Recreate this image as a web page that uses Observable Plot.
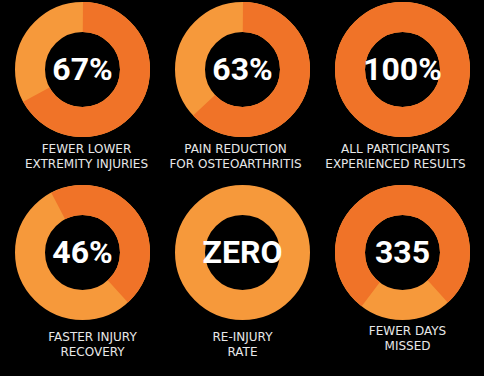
<!DOCTYPE html>
<html><head><meta charset="utf-8">
<script src="https://cdn.jsdelivr.net/npm/d3@7"></script>
<script src="https://cdn.jsdelivr.net/npm/@observablehq/plot@0.6"></script>
<style>html,body{margin:0;padding:0;background:#000;} #chart{width:484px;height:376px;}</style>
</head><body><div id="chart"></div>
<script>
// ---- data ----
const figures = ["67%", "63%", "100%", "46%", "ZERO", "335"];
const darkShare = [0.67, 0.63, 1.00, 0.46, 0.00, 0.78];
const darkStartDeg = [0, 0, 0, -28, 0, 217];
const captionLine1 = ["FEWER LOWER", "PAIN REDUCTION", "ALL PARTICIPANTS", "FASTER INJURY", "RE-INJURY", "FEWER DAYS"];
const captionLine2 = ["EXTREMITY INJURIES", "FOR OSTEOARTHRITIS", "EXPERIENCED RESULTS", "RECOVERY", "RATE", "MISSED"];
const gridCol = [0, 1, 2, 0, 1, 2];
const gridRow = [0, 0, 0, 1, 1, 1];

// ---- layout / style ----
const ringR = 52.5, ringW = 30;
const captionDx = [4, -7, -7, 10, 0, 5];
const captionDy = [80, 80, 80, 85, 85, 79];
const lineGap = 14.5;
const DARK = "#f07328", LIGHT = "#f6993b";
const C = 2 * Math.PI * ringR;

const marks = [];
figures.forEach((f, i) => {
  const d = [i];
  const X = k => gridCol[k], Y = k => gridRow[k];
  marks.push(Plot.dot(d, {x: X, y: Y, r: ringR, fill: "none", stroke: LIGHT, strokeWidth: ringW}));
  if (darkShare[i] > 0) {
    const L = darkShare[i] * C;
    marks.push(Plot.dot(d, {
      x: X, y: Y, r: ringR, fill: "none", stroke: DARK, strokeWidth: ringW,
      strokeDasharray: `${L} ${C - L + 0.001}`,
      strokeDashoffset: C / 4 - darkStartDeg[i] / 360 * C
    }));
  }
  marks.push(Plot.text(d, {x: X, y: Y, text: k => figures[k], fill: "#fff", fontSize: 32, fontWeight: 700, fontFamily: "Roboto"}));
  marks.push(Plot.text(d, {x: X, y: Y, text: k => captionLine1[k], fill: "#e8e8e8", fontSize: 12, dx: captionDx[i], dy: captionDy[i]}));
  marks.push(Plot.text(d, {x: X, y: Y, text: k => captionLine2[k], fill: "#e8e8e8", fontSize: 12, dx: captionDx[i], dy: captionDy[i] + lineGap}));
});

const chart = Plot.plot({
  width: 484, height: 376, margin: 0,
  style: {background: "#000", fontFamily: "DejaVu Sans"},
  x: {domain: [-0.5, 2.5], range: [2, 482], axis: null},
  y: {domain: [0, 1], range: [69, 252], axis: null},
  marks
});
document.getElementById("chart").appendChild(chart);
</script>
</body></html>
